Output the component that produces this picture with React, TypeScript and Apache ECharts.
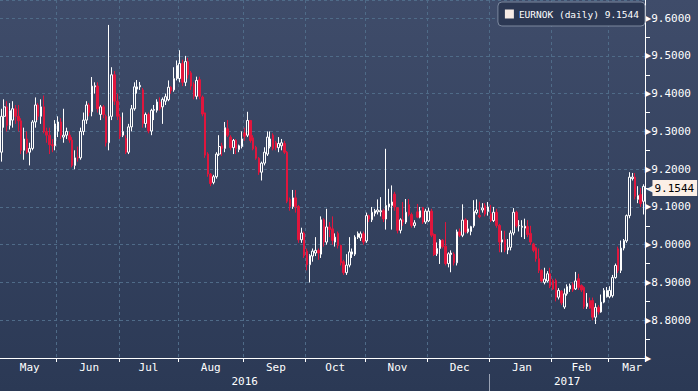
import React, { useEffect, useRef } from 'react';
import * as echarts from 'echarts';

// Each row: [open, close, low, high]
const may = [
  [9.245, 9.34, 9.22, 9.36], [9.34, 9.365, 9.31, 9.385], [9.365, 9.316, 9.30, 9.38], [9.316, 9.355, 9.305, 9.375],
  [9.33, 9.36, 9.31, 9.38], [9.36, 9.34, 9.32, 9.37], [9.34, 9.328, 9.30, 9.37], [9.328, 9.25, 9.24, 9.335],
  [9.25, 9.28, 9.225, 9.31], [9.28, 9.245, 9.24, 9.30], [9.245, 9.255, 9.21, 9.27], [9.255, 9.325, 9.25, 9.33],
  [9.325, 9.37, 9.31, 9.39], [9.37, 9.34, 9.33, 9.375], [9.34, 9.365, 9.32, 9.385], [9.365, 9.30, 9.295, 9.395],
  [9.30, 9.29, 9.27, 9.31], [9.29, 9.265, 9.24, 9.31], [9.265, 9.262, 9.245, 9.28], [9.262, 9.32, 9.25, 9.33],
];
const jun = [
  [9.30, 9.325, 9.285, 9.34], [9.325, 9.29, 9.28, 9.335], [9.285, 9.29, 9.27, 9.36], [9.29, 9.30, 9.28, 9.31],
  [9.29, 9.277, 9.27, 9.30], [9.277, 9.21, 9.205, 9.285], [9.21, 9.23, 9.20, 9.25], [9.232, 9.23, 9.22, 9.26],
  [9.23, 9.30, 9.225, 9.31], [9.30, 9.33, 9.29, 9.35], [9.33, 9.37, 9.32, 9.38], [9.37, 9.35, 9.34, 9.375],
  [9.352, 9.42, 9.34, 9.444], [9.418, 9.421, 9.40, 9.43], [9.42, 9.36, 9.35, 9.43], [9.345, 9.365, 9.33, 9.37],
  [9.365, 9.345, 9.335, 9.37], [9.34, 9.27, 9.26, 9.345], [9.27, 9.34, 9.25, 9.582], [9.34, 9.45, 9.33, 9.47],
  [9.45, 9.38, 9.37, 9.46], [9.38, 9.34, 9.33, 9.40],
];
const jul = [
  [9.338, 9.287, 9.28, 9.345], [9.29, 9.30, 9.285, 9.35], [9.281, 9.245, 9.24, 9.29], [9.245, 9.312, 9.24, 9.32],
  [9.312, 9.36, 9.30, 9.37], [9.36, 9.418, 9.355, 9.43], [9.412, 9.418, 9.40, 9.436], [9.418, 9.422, 9.41, 9.431],
  [9.41, 9.321, 9.31, 9.415], [9.321, 9.345, 9.31, 9.35], [9.345, 9.301, 9.295, 9.35], [9.301, 9.356, 9.29, 9.36],
  [9.356, 9.358, 9.33, 9.37], [9.356, 9.378, 9.35, 9.385], [9.378, 9.36, 9.355, 9.39], [9.365, 9.385, 9.32, 9.39],
  [9.38, 9.392, 9.37, 9.40], [9.384, 9.417, 9.38, 9.435], [9.417, 9.408, 9.40, 9.42], [9.41, 9.44, 9.405, 9.47],
  [9.44, 9.475, 9.435, 9.488],
];
const aug = [
  [9.44, 9.48, 9.43, 9.515], [9.48, 9.43, 9.42, 9.49], [9.43, 9.485, 9.42, 9.50], [9.485, 9.45, 9.44, 9.495],
  [9.455, 9.42, 9.41, 9.46], [9.425, 9.393, 9.385, 9.43], [9.393, 9.435, 9.385, 9.445], [9.437, 9.393, 9.385, 9.445],
  [9.391, 9.346, 9.34, 9.395], [9.349, 9.237, 9.23, 9.35], [9.24, 9.187, 9.18, 9.245], [9.187, 9.162, 9.155, 9.19],
  [9.165, 9.18, 9.16, 9.185], [9.18, 9.24, 9.175, 9.245], [9.24, 9.26, 9.235, 9.29], [9.262, 9.255, 9.235, 9.27],
  [9.255, 9.31, 9.245, 9.325], [9.307, 9.29, 9.285, 9.33], [9.285, 9.257, 9.25, 9.29], [9.257, 9.276, 9.24, 9.28],
  [9.276, 9.255, 9.24, 9.28], [9.252, 9.262, 9.245, 9.265], [9.26, 9.28, 9.255, 9.30],
];
const sep = [
  [9.296, 9.287, 9.275, 9.31], [9.29, 9.329, 9.285, 9.352], [9.329, 9.276, 9.27, 9.33], [9.283, 9.254, 9.25, 9.29],
  [9.258, 9.229, 9.225, 9.262], [9.229, 9.192, 9.185, 9.232], [9.192, 9.216, 9.17, 9.22], [9.216, 9.245, 9.21, 9.258],
  [9.24, 9.285, 9.235, 9.30], [9.26, 9.28, 9.255, 9.30], [9.29, 9.255, 9.25, 9.295], [9.27, 9.257, 9.25, 9.275],
  [9.257, 9.268, 9.245, 9.285], [9.262, 9.27, 9.25, 9.28], [9.268, 9.245, 9.24, 9.275], [9.245, 9.115, 9.11, 9.248],
  [9.12, 9.101, 9.09, 9.125], [9.101, 9.124, 9.095, 9.145], [9.124, 9.101, 9.085, 9.145], [9.101, 9.013, 9.005, 9.105],
  [9.013, 9.031, 9.005, 9.045], [9.031, 8.971, 8.965, 9.035],
];
const oct = [
  [8.983, 8.947, 8.932, 8.99], [8.947, 8.971, 8.90, 8.975], [8.97, 8.983, 8.955, 8.99], [8.978, 8.985, 8.97, 9.02],
  [8.985, 8.978, 8.96, 8.99], [8.975, 9.066, 8.965, 9.075], [9.066, 9.007, 8.995, 9.07], [9.007, 9.047, 9.0, 9.095],
  [9.047, 9.04, 9.02, 9.06], [9.042, 9.011, 9.0, 9.075], [9.007, 9.02, 8.995, 9.03], [9.03, 8.998, 8.99, 9.035],
  [8.998, 8.952, 8.945, 9.0], [8.955, 8.926, 8.92, 8.96], [8.926, 8.946, 8.92, 8.975], [8.946, 8.981, 8.94, 9.02],
  [8.975, 8.981, 8.965, 8.99], [8.975, 9.02, 8.97, 9.025], [9.02, 9.03, 9.015, 9.035], [9.018, 9.029, 9.01, 9.035],
  [9.029, 9.007, 9.0, 9.035],
];
const nov = [
  [9.01, 9.077, 9.005, 9.085], [9.077, 9.068, 9.06, 9.08], [9.066, 9.086, 9.06, 9.10], [9.083, 9.09, 9.075, 9.095],
  [9.087, 9.092, 9.08, 9.12], [9.087, 9.09, 9.075, 9.126], [9.09, 9.068, 9.06, 9.095], [9.068, 9.104, 9.04, 9.254],
  [9.10, 9.108, 9.09, 9.148], [9.104, 9.113, 9.04, 9.157], [9.134, 9.10, 9.09, 9.14], [9.098, 9.038, 9.03, 9.10],
  [9.038, 9.066, 9.03, 9.07], [9.066, 9.06, 9.05, 9.113], [9.06, 9.086, 9.055, 9.121], [9.106, 9.08, 9.075, 9.121],
  [9.08, 9.051, 9.045, 9.085], [9.051, 9.058, 9.045, 9.065], [9.087, 9.073, 9.07, 9.108], [9.073, 9.09, 9.07, 9.10],
  [9.098, 9.06, 9.055, 9.10], [9.06, 9.089, 9.055, 9.095],
];
const dec = [
  [9.063, 9.089, 9.06, 9.098], [9.089, 9.025, 9.02, 9.095], [9.027, 8.974, 8.97, 9.03], [8.976, 8.99, 8.97, 9.006],
  [8.99, 9.012, 8.949, 9.015], [9.012, 8.995, 8.99, 9.015], [8.996, 8.95, 8.945, 9.06], [8.95, 8.976, 8.94, 8.98],
  [8.974, 8.978, 8.927, 8.985], [8.975, 8.952, 8.945, 8.98], [8.952, 9.034, 8.945, 9.04], [9.034, 9.025, 9.02, 9.043],
  [9.025, 9.065, 9.02, 9.107], [9.066, 9.034, 9.03, 9.07], [9.034, 9.042, 9.03, 9.065], [9.035, 9.048, 9.025, 9.05],
  [9.05, 9.088, 9.045, 9.118], [9.085, 9.092, 9.08, 9.12], [9.078, 9.074, 9.07, 9.114], [9.092, 9.097, 9.085, 9.11],
  [9.103, 9.081, 9.075, 9.11], [9.088, 9.10, 9.077, 9.113],
];
const jan = [
  [9.082, 9.064, 9.06, 9.105], [9.064, 9.086, 9.06, 9.10], [9.086, 9.051, 9.045, 9.095], [9.051, 9.007, 8.98, 9.055],
  [9.007, 9.013, 8.98, 9.037], [9.013, 8.986, 8.98, 9.037], [8.986, 8.993, 8.975, 9.015], [8.993, 9.031, 8.985, 9.038],
  [9.031, 9.086, 9.025, 9.097], [9.086, 9.05, 9.045, 9.09], [9.05, 9.051, 9.035, 9.065], [9.046, 9.049, 9.02, 9.065],
  [9.044, 9.049, 9.015, 9.069], [9.048, 9.027, 9.02, 9.065], [9.03, 9.007, 9.0, 9.05], [9.002, 8.985, 8.98, 9.005],
  [8.992, 8.963, 8.955, 8.995], [8.963, 8.932, 8.925, 8.99], [8.932, 8.904, 8.9, 8.935], [8.9, 8.909, 8.895, 8.939],
  [8.904, 8.923, 8.9, 8.93], [8.923, 8.89, 8.885, 8.939],
];
const feb = [
  [8.905, 8.883, 8.88, 8.91], [8.905, 8.861, 8.85, 8.91], [8.861, 8.879, 8.855, 8.885], [8.877, 8.846, 8.84, 8.88],
  [8.835, 8.87, 8.83, 8.884], [8.87, 8.889, 8.865, 8.895], [8.883, 8.892, 8.875, 8.897], [8.894, 8.88, 8.875, 8.90],
  [8.883, 8.904, 8.88, 8.928], [8.91, 8.887, 8.88, 8.923], [8.892, 8.88, 8.875, 8.895], [8.887, 8.836, 8.83, 8.89],
  [8.836, 8.845, 8.83, 8.872], [8.852, 8.832, 8.83, 8.86], [8.852, 8.808, 8.80, 8.86], [8.808, 8.834, 8.79, 8.845],
  [8.834, 8.822, 8.815, 8.84], [8.822, 8.848, 8.82, 8.868], [8.848, 8.879, 8.845, 8.885], [8.862, 8.879, 8.86, 8.888],
];
const mar = [
  [8.862, 8.879, 8.858, 8.89], [8.865, 8.913, 8.86, 8.92], [8.913, 8.945, 8.91, 8.95], [8.989, 8.932, 8.925, 8.995],
  [8.932, 8.991, 8.925, 9.011], [8.991, 9.011, 8.985, 9.015], [9.01, 9.077, 9.005, 9.08], [9.077, 9.179, 9.07, 9.192],
  [9.175, 9.179, 9.17, 9.19], [9.179, 9.128, 9.12, 9.19], [9.12, 9.13, 9.11, 9.155], [9.133, 9.109, 9.10, 9.15],
  [9.115, 9.1544, 9.08, 9.16],
];

const monthNames = ['May', 'Jun', 'Jul', 'Aug', 'Sep', 'Oct', 'Nov', 'Dec', 'Jan', 'Feb', 'Mar'];
const months = [may, jun, jul, aug, sep, oct, nov, dec, jan, feb, mar];
const yearNames = ['2016', '2017'];
const monthYear = [0, 0, 0, 0, 0, 0, 0, 0, 1, 1, 1];
const seriesName = 'EURNOK (daily)';

const FONT = 'DejaVu Sans Mono, monospace';
const GRID_COLOR = '#4f6b88';

export default function App() {
  const ref = useRef<HTMLDivElement>(null);

  useEffect(() => {
    if (!ref.current) return;
    const chart = echarts.init(ref.current, null, { renderer: 'svg' });

    const categories: string[] = [];
    const data: number[][] = [];
    const monthStart = new Set<number>();
    const monthLabelAt = new Map<number, string>();
    const yearCount = [0, 0];
    const yearFirst: number[] = [-1, -1];
    months.forEach((rows, m) => {
      const start = data.length;
      if (m > 0) monthStart.add(start);
      const isLast = m === months.length - 1;
      monthLabelAt.set(start + Math.floor(rows.length / 2) + (isLast ? 2 : 0), monthNames[m]);
      const y = monthYear[m];
      if (yearFirst[y] < 0) yearFirst[y] = start;
      yearCount[y] += rows.length;
      rows.forEach((r, d) => {
        categories.push(`${monthNames[m]} ${d + 1} ${yearNames[y]}`);
        data.push(r);
      });
    });
    const yearStart: number[] = [];
    const yearLabelAt = new Map<number, string>();
    yearNames.forEach((name, y) => {
      if (y > 0) yearStart.push(yearFirst[y]);
      yearLabelAt.set(yearFirst[y] + Math.floor(yearCount[y] / 2), name);
    });
    const last = data[data.length - 1][1];

    chart.setOption({
      animation: false,
      backgroundColor: new echarts.graphic.LinearGradient(0, 0, 0, 1, [
        { offset: 0, color: '#3f4c6a' },
        { offset: 1, color: '#2b3955' },
      ]),
      grid: { left: 0, right: 53, top: 0, bottom: 33, containLabel: false },
      legend: {
        right: 53,
        top: 2,
        selectedMode: false,
        data: [{ name: seriesName, icon: 'rect', itemStyle: { color: '#f7ebe4', borderWidth: 0 } }],
        formatter: () => `${seriesName} ${last.toFixed(4)}`,
        textStyle: { color: '#ffffff', fontFamily: 'DejaVu Sans Mono', fontSize: 9.5 },
        backgroundColor: '#2c3853',
        borderColor: '#7c889e',
        borderWidth: 1,
        borderRadius: 4,
        padding: [7, 6, 7, 7],
        itemWidth: 9,
        itemHeight: 9,
        itemGap: 5,
      },
      xAxis: [
        {
          type: 'category',
          data: categories,
          boundaryGap: true,
          axisLine: { show: true, lineStyle: { color: '#ffffff', width: 1 } },
          axisTick: { show: true, interval: (i: number) => monthStart.has(i), length: 4, lineStyle: { color: '#ffffff' } },
          axisLabel: {
            interval: (i: number) => monthLabelAt.has(i),
            formatter: (_v: string, i: number) => monthLabelAt.get(i) ?? '',
            color: '#ffffff',
            fontFamily: FONT,
            fontSize: 11,
            margin: 4,
          },
          splitLine: {
            show: true,
            interval: (i: number) => monthStart.has(i),
            lineStyle: { color: GRID_COLOR, type: [3, 3], width: 1 },
          },
        },
        {
          type: 'category',
          data: categories,
          boundaryGap: true,
          position: 'bottom',
          offset: 15,
          axisLine: { show: false },
          axisTick: { show: false },
          axisLabel: {
            interval: (i: number) => yearLabelAt.has(i),
            formatter: (_v: string, i: number) => yearLabelAt.get(i) ?? '',
            color: '#ffffff',
            fontFamily: FONT,
            fontSize: 11,
            margin: 3,
          },
          splitLine: { show: false },
        },
      ],
      yAxis: {
        type: 'value',
        position: 'right',
        min: 8.7,
        max: 9.648,
        interval: 0.1,
        axisLine: { show: true, lineStyle: { color: '#ffffff' } },
        axisTick: { show: false },
        minorTick: { show: true, splitNumber: 2, length: 5, lineStyle: { color: '#ffffff' } },
        axisLabel: {
          showMaxLabel: false,
          margin: 0,
          formatter: (v: number) => (v < 8.75 ? '{t|▶}' : `{t|▶}{v|${v.toFixed(4)}}`),
          rich: {
            t: { fontSize: 8, color: '#ffffff', fontFamily: 'DejaVu Sans' },
            v: { fontSize: 11, color: '#ffffff', fontFamily: FONT },
          },
        },
        splitLine: { show: true, lineStyle: { color: GRID_COLOR, type: [3, 3], width: 1 } },
      },
      series: [
        {
          type: 'candlestick',
          name: seriesName,
          data,
          barWidth: '72%',
          itemStyle: {
            color: 'transparent',
            color0: '#e0163d',
            borderColor: '#ffffff',
            borderColor0: '#e0163d',
            borderColorDoji: '#ffffff',
            borderWidth: 1,
          },
          markLine: {
            silent: true,
            symbol: ['none', 'none'],
            lineStyle: { color: 'rgba(0,0,0,0)', width: 0, type: 'solid' },
            data: [{ yAxis: last }],
            label: {
              show: true,
              position: 'end',
              distance: 1,
              formatter: () => `{a|◀}{b|${last.toFixed(4)}}`,
              rich: {
                a: { color: '#fcefe6', fontSize: 11, fontFamily: 'DejaVu Sans', padding: [0, -2, 0, 0] },
                b: {
                  color: '#000000',
                  backgroundColor: '#fcefe6',
                  fontFamily: FONT,
                  fontSize: 11,
                  padding: [3, 3, 2, 2],
                },
              },
            },
          },
        },
      ],
    });

    // Year divider below the month labels, placed through the category scale.
    const step = (chart.convertToPixel({ xAxisIndex: 0 }, 1) as number) - (chart.convertToPixel({ xAxisIndex: 0 }, 0) as number);
    const h = chart.getHeight();
    chart.setOption({
      graphic: yearStart.map((idx) => {
        const x = Math.round((chart.convertToPixel({ xAxisIndex: 0 }, idx) as number) - step / 2) + 0.5;
        return {
          type: 'line',
          silent: true,
          shape: { x1: x, y1: h - 17, x2: x, y2: h },
          style: { stroke: '#9aa3b5', lineWidth: 1 },
        };
      }),
    });

    return () => chart.dispose();
  }, []);

  return (
    <div
      ref={ref}
      style={{ position: 'fixed', left: 0, top: 0, width: 698, height: 391 }}
    />
  );
}
